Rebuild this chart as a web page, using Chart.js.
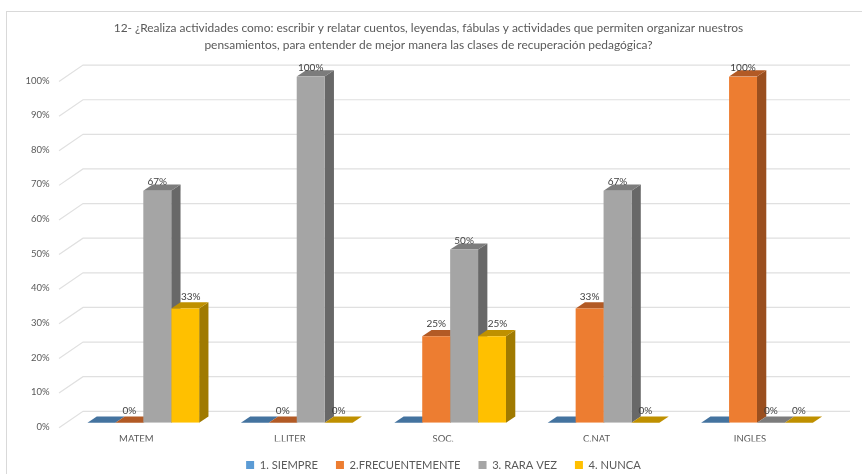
<!DOCTYPE html>
<html>
<head>
<meta charset="utf-8">
<style>
body { margin: 0; background: #fff; }
canvas { display: block; }
</style>
<script src="https://cdn.jsdelivr.net/npm/chart.js@4"></script>
</head>
<body>
<canvas id="chart" width="862" height="474"></canvas>
<script>
var materias = ['MATEM', 'L.LITER', 'SOC.', 'C.NAT', 'INGLES'];
var siempre = [0, 0, 0, 0, 0];
var frecuentemente = [0, 0, 25, 33, 100];
var rara_vez = [67, 100, 50, 67, 0];
var nunca = [33, 0, 25, 0, 0];
var y_ticks_max = 100;
var titulo = [
    '12- ¿Realiza actividades como: escribir y relatar cuentos, leyendas, fábulas y actividades que permiten organizar nuestros',
    'pensamientos, para entender de mejor manera las clases de recuperación pedagógica?'
];

var text_color = '#595959';
var grid_color = '#e0e0e0';
var font_name = 'Lato';

// fake 3D: bar depth and how far the walls reach behind/in front of the bars
var bar_dx = 9.3, bar_dy = 6.2;
var wall_back_dx = 16.4, wall_back_dy = 11.4;
var wall_front_dx = 7.6, wall_front_dy = 5;
var wall_right = 850;

function poly(c, points, color) {
    c.fillStyle = color;
    c.beginPath();
    c.moveTo(points[0][0], points[0][1]);
    for (var i = 1; i < points.length; i++)
        c.lineTo(points[i][0], points[i][1]);
    c.closePath();
    c.fill();
}

var frame_plugin = {
    id: 'frame',
    beforeDraw: function (chart) {
        var c = chart.ctx;
        c.save();
        c.strokeStyle = '#d9d9d9';
        c.lineWidth = 1;
        c.strokeRect(6.5, 11.5, 900, 500);
        c.restore();
    }
};

// back wall lines, then top and side faces; the library paints the front faces over them
var walls_plugin = {
    id: 'walls',
    beforeDatasetsDraw: function (chart) {
        var c = chart.ctx;
        var y = chart.scales.y;
        var left = chart.chartArea.left;
        c.save();
        c.strokeStyle = grid_color;
        c.lineWidth = 1.2;
        y.ticks.forEach(function (t) {
            var py = y.getPixelForValue(t.value);
            c.beginPath();
            c.moveTo(left - wall_front_dx, py + wall_front_dy);
            c.lineTo(left + wall_back_dx, py - wall_back_dy);
            c.lineTo(wall_right, py - wall_back_dy);
            c.stroke();
        });
        chart.data.datasets.forEach(function (ds, di) {
            chart.getDatasetMeta(di).data.forEach(function (bar, i) {
                var w = bar.width / 2;
                var l = bar.x - w, r = bar.x + w;
                var top = bar.y, base = bar.base;
                if (ds.data[i] > 0)
                    poly(c, [[r, top], [r + bar_dx, top - bar_dy], [r + bar_dx, base - bar_dy], [r, base]], ds.sideColor);
                poly(c, [[l, top], [r, top], [r + bar_dx, top - bar_dy], [l + bar_dx, top - bar_dy]], ds.topColor);
            });
        });
        c.restore();
    }
};

var values_plugin = {
    id: 'values',
    afterDraw: function (chart) {
        var c = chart.ctx;
        c.save();
        c.font = '10px ' + font_name;
        c.fillStyle = '#404040';
        c.textAlign = 'center';
        c.textBaseline = 'middle';
        chart.data.datasets.forEach(function (ds, di) {
            if (!ds.showValue)
                return;
            chart.getDatasetMeta(di).data.forEach(function (bar, i) {
                var v = ds.data[i];
                var up = v >= 50 ? 9 : 12;
                c.fillText(v + '%', bar.x + (ds.label == '4. NUNCA' && v > 0 ? 5.5 : 0), bar.y - up);
            });
        });
        c.restore();
    }
};

// title and legend are not centred on the canvas
var nudge_plugin = {
    id: 'nudge',
    afterLayout: function (chart) {
        chart.legend.left += 25;
        chart.titleBlock.right -= 5;
    }
};

var ctx = document.getElementById('chart');

var cfg = {
    type: 'bar',
    data: {
        labels: materias,
        datasets: [
            { label: '1. SIEMPRE', data: siempre, backgroundColor: '#5b9bd5', topColor: '#44739f', sideColor: '#3a6487', showValue: false },
            { label: '2.FRECUENTEMENTE', data: frecuentemente, backgroundColor: '#ed7d31', topColor: '#b25a25', sideColor: '#9a4f1f', showValue: true },
            { label: '3. RARA VEZ', data: rara_vez, backgroundColor: '#a5a5a5', topColor: '#7c7c7c', sideColor: '#686868', showValue: true },
            { label: '4. NUNCA', data: nunca, backgroundColor: '#ffc000', topColor: '#bf9000', sideColor: '#a07a00', showValue: true }
        ]
    },
    options: {
        responsive: false,
        animation: false,
        layout: { padding: { bottom: -6.6 } },
        categoryPercentage: 0.728,
        barPercentage: 1,
        scales: {
            x: {
                grid: { display: false, drawTicks: false },
                border: { display: false },
                afterFit: function (s) { s.height = 18.7; },
                ticks: {
                    color: text_color,
                    font: { family: font_name, size: 9.5 },
                    labelOffset: -7,
                    padding: 11,
                    maxRotation: 0
                }
            },
            y: {
                min: 0,
                max: y_ticks_max,
                grid: { display: false, drawTicks: false },
                border: { display: false },
                afterFit: function (s) { s.width = 66.6; },
                ticks: {
                    stepSize: 10,
                    color: text_color,
                    font: { family: font_name, size: 9.5 },
                    labelOffset: 4,
                    padding: 17,
                    callback: function (v) { return v + '%'; }
                }
            },
            // empty axis, only keeps the bars clear of the right edge
            y_margin: {
                position: 'right',
                grid: { display: false, drawTicks: false },
                border: { display: false },
                ticks: { display: false },
                afterFit: function (s) { s.width = 28.3; }
            }
        },
        plugins: {
            tooltip: { enabled: false },
            title: {
                display: true,
                text: titulo,
                color: text_color,
                font: { family: font_name, size: 11.95, weight: 'normal', lineHeight: 1.39 },
                padding: { top: 20, bottom: 23.3 }
            },
            legend: {
                display: true,
                position: 'bottom',
                labels: {
                    color: text_color,
                    font: { family: font_name, size: 11.2 },
                    boxWidth: 8,
                    boxHeight: 8,
                    padding: 18
                }
            }
        }
    },
    plugins: [frame_plugin, walls_plugin, values_plugin, nudge_plugin]
};

const chart = new Chart(ctx, cfg);
</script>
</body>
</html>
